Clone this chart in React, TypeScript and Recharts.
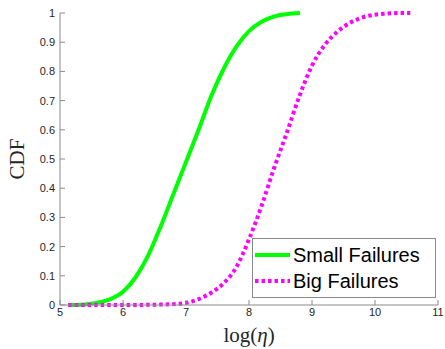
import { LineChart, Line, XAxis, YAxis, Legend } from 'recharts'

document.body.style.margin = '0'

// log(eta) positions and CDF values
const smallX = [5.13, 5.4, 5.6, 5.8, 6.0, 6.2, 6.4, 6.6, 6.8, 7.0, 7.2, 7.4, 7.6, 7.8, 8.0, 8.2, 8.4, 8.6, 8.81]
const smallCdf = [0, 0.002, 0.008, 0.02, 0.045, 0.095, 0.17, 0.27, 0.38, 0.49, 0.6, 0.715, 0.81, 0.885, 0.938, 0.97, 0.988, 0.996, 1]

const bigX = [5.13, 6.0, 6.5, 6.8, 7.0, 7.2, 7.4, 7.6, 7.8, 8.0, 8.2, 8.4, 8.6, 8.8, 9.0, 9.2, 9.4, 9.6, 9.8, 10.0, 10.2, 10.4, 10.56]
const bigCdf = [0, 0, 0.001, 0.003, 0.007, 0.02, 0.042, 0.075, 0.13, 0.225, 0.34, 0.47, 0.59, 0.715, 0.82, 0.89, 0.935, 0.966, 0.985, 0.994, 0.998, 1, 1]

const xTicks = [5, 6, 7, 8, 9, 10, 11]
const yTicks = [0, 0.1, 0.2, 0.3, 0.4, 0.5, 0.6, 0.7, 0.8, 0.9, 1]

const smallData = smallX.map((x, i) => ({ x, y: smallCdf[i] }))
const bigData = bigX.map((x, i) => ({ x, y: bigCdf[i] }))

const axisColor = '#8a8a8a'
const tickText = { fontSize: 11, fill: '#262626', fontFamily: 'Liberation Sans, Arial, sans-serif' }
const serif = 'Liberation Serif, Times New Roman, serif'

const LegendBox = () => (
  <div
    style={{
      border: '1px solid #8a8a8a',
      background: '#fff',
      width: 182,
      padding: '3px 0',
      fontFamily: 'Liberation Sans, Arial, sans-serif',
      fontSize: 20,
      color: '#000',
      lineHeight: '26px',
    }}
  >
    <div style={{ display: 'flex', alignItems: 'center' }}>
      <svg width={38} height={10} style={{ marginLeft: 2 }}>
        <line x1={0} y1={5} x2={35} y2={5} stroke="#00ff00" strokeWidth={4} />
      </svg>
      <span>Small Failures</span>
    </div>
    <div style={{ display: 'flex', alignItems: 'center' }}>
      <svg width={38} height={10} style={{ marginLeft: 2 }}>
        <line x1={0} y1={5} x2={35} y2={5} stroke="#ff00ff" strokeWidth={4} strokeDasharray="3.5 3" />
      </svg>
      <span>Big Failures</span>
    </div>
  </div>
)

export default function App() {
  return (
    <LineChart width={445} height={349} margin={{ top: 13, right: 7, bottom: 0, left: 0 }}>
      <XAxis
        xAxisId="b"
        type="number"
        dataKey="x"
        domain={[5, 11]}
        ticks={xTicks}
        allowDataOverflow
        height={44}
        stroke={axisColor}
        tickSize={-5}
        tickMargin={8}
        tick={tickText}
        label={{
          content: ({ viewBox }: any) => (
            <text
              x={viewBox.x + viewBox.width / 2}
              y={viewBox.y + 37}
              textAnchor="middle"
              fontFamily={serif}
              fontSize={21}
              fill="#262626"
            >
              log(<tspan fontStyle="italic">η</tspan>)
            </text>
          ),
        }}
      />
      <XAxis
        xAxisId="t"
        orientation="top"
        type="number"
        dataKey="x"
        domain={[5, 11]}
        ticks={xTicks}
        height={0}
        stroke={axisColor}
        tickSize={-5}
        tickFormatter={() => ''}
      />
      <YAxis
        yAxisId="l"
        type="number"
        domain={[0, 1]}
        ticks={yTicks}
        width={60}
        stroke={axisColor}
        tickSize={-5}
        tickMargin={10}
        tick={tickText}
        label={{
          content: ({ viewBox }: any) => {
            const cx = 17
            const cy = viewBox.y + viewBox.height / 2
            return (
              <text
                x={cx}
                y={cy}
                transform={`rotate(-90 ${cx} ${cy})`}
                textAnchor="middle"
                dominantBaseline="central"
                fontFamily={serif}
                fontSize={21}
                fill="#262626"
              >
                CDF
              </text>
            )
          },
        }}
      />
      <YAxis
        yAxisId="r"
        orientation="right"
        type="number"
        domain={[0, 1]}
        ticks={yTicks}
        width={0}
        stroke={axisColor}
        tickSize={-5}
        tickFormatter={() => ''}
      />
      <Line
        xAxisId="b"
        yAxisId="l"
        data={smallData}
        dataKey="y"
        type="monotone"
        stroke="#00ff00"
        strokeWidth={4}
        dot={false}
        isAnimationActive={false}
      />
      <Line
        xAxisId="b"
        yAxisId="l"
        data={bigData}
        dataKey="y"
        type="monotone"
        stroke="#ff00ff"
        strokeWidth={4}
        strokeDasharray="3.5 3"
        dot={false}
        isAnimationActive={false}
      />
      <Legend
        layout="vertical"
        verticalAlign="middle"
        align="center"
        wrapperStyle={{ left: 252, top: 238, width: 'auto' }}
        content={() => <LegendBox />}
      />
    </LineChart>
  )
}
